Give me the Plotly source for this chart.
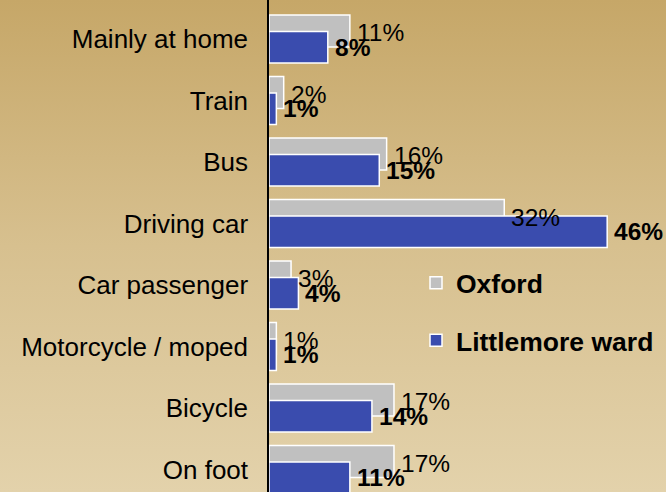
import base64
import plotly.graph_objects as go

# Travel-to-work mode shares (%)
modes = ["Mainly at home", "Train", "Bus", "Driving car", "Car passenger",
         "Motorcycle / moped", "Bicycle", "On foot"]
oxford = [11, 2, 16, 32, 3, 1, 17, 17]
littlemore = [8, 1, 15, 46, 4, 1, 14, 11]

W, H = 666, 492
FONT = "Liberation Sans, Arial, sans-serif"
GREY = "#c0c0c0"
BLUE = "#3a4cae"

# Vertical tan-to-cream background gradient as an inline SVG image
svg = (
    f'<svg xmlns="http://www.w3.org/2000/svg" width="{W}" height="{H}">'
    '<defs><linearGradient id="g" x1="0" y1="0" x2="0" y2="1">'
    '<stop offset="0" stop-color="#c6a768"/>'
    '<stop offset="0.5" stop-color="#d7c08f"/>'
    '<stop offset="1" stop-color="#e3d2ab"/>'
    '</linearGradient></defs>'
    f'<rect width="{W}" height="{H}" fill="url(#g)"/></svg>'
)
bg_uri = "data:image/svg+xml;base64," + base64.b64encode(svg.encode()).decode()

idx = list(range(len(modes)))
G_OFF, G_W = -0.39, 0.52
B_OFF, B_W = -0.12, 0.51

fig = go.Figure()
fig.add_trace(go.Bar(
    y=idx, x=oxford, orientation="h", name="<b>Oxford</b>",
    marker=dict(color=GREY, line=dict(color="white", width=1.5)),
    offset=G_OFF, width=G_W, legendgroup="a",
))
fig.add_trace(go.Bar(
    y=idx, x=littlemore, orientation="h", name="<b>Littlemore ward</b>",
    marker=dict(color=BLUE, line=dict(color="white", width=1.5)),
    offset=B_OFF, width=B_W, legendgroup="b",
))

# Value labels just past each bar end
for i, v in enumerate(oxford):
    fig.add_annotation(x=v, y=i + G_OFF + G_W / 2 + 0.03, text=f"{v}%",
                       xanchor="left", yanchor="middle", xshift=5,
                       showarrow=False,
                       font=dict(family=FONT, size=24.5, color="black"))
for i, v in enumerate(littlemore):
    fig.add_annotation(x=v, y=i + B_OFF + B_W / 2, text=f"<b>{v}%</b>",
                       xanchor="left", yanchor="middle", xshift=5,
                       showarrow=False,
                       font=dict(family=FONT, size=24.5, color="black"))

fig.update_layout(
    width=W, height=H,
    margin=dict(l=269, r=0, t=0, b=0),
    barmode="overlay",
    paper_bgcolor="rgba(0,0,0,0)",
    plot_bgcolor="rgba(0,0,0,0)",
    images=[dict(source=bg_uri, xref="paper", yref="paper",
                 x=-269 / 397, y=1, sizex=W / 397, sizey=1,
                 xanchor="left", yanchor="top", sizing="stretch",
                 layer="below")],
    xaxis=dict(range=[0, 54], visible=False, fixedrange=True),
    yaxis=dict(
        range=[7.366, -0.634],
        tickmode="array", tickvals=idx, ticktext=modes,
        showline=True, linecolor="black", linewidth=1.5,
        showgrid=False, zeroline=False, ticks="",
        ticklabelstandoff=14,
        tickfont=dict(family=FONT, size=26, color="black"),
    ),
    showlegend=True,
    legend=dict(
        x=(416 - 269) / 397, y=(H - 259) / H, xanchor="left", yanchor="top",
        bgcolor="rgba(0,0,0,0)", traceorder="grouped", tracegroupgap=20,
        font=dict(family=FONT, size=26.5, color="black"),
    ),
)

fig.write_html("out.html")
